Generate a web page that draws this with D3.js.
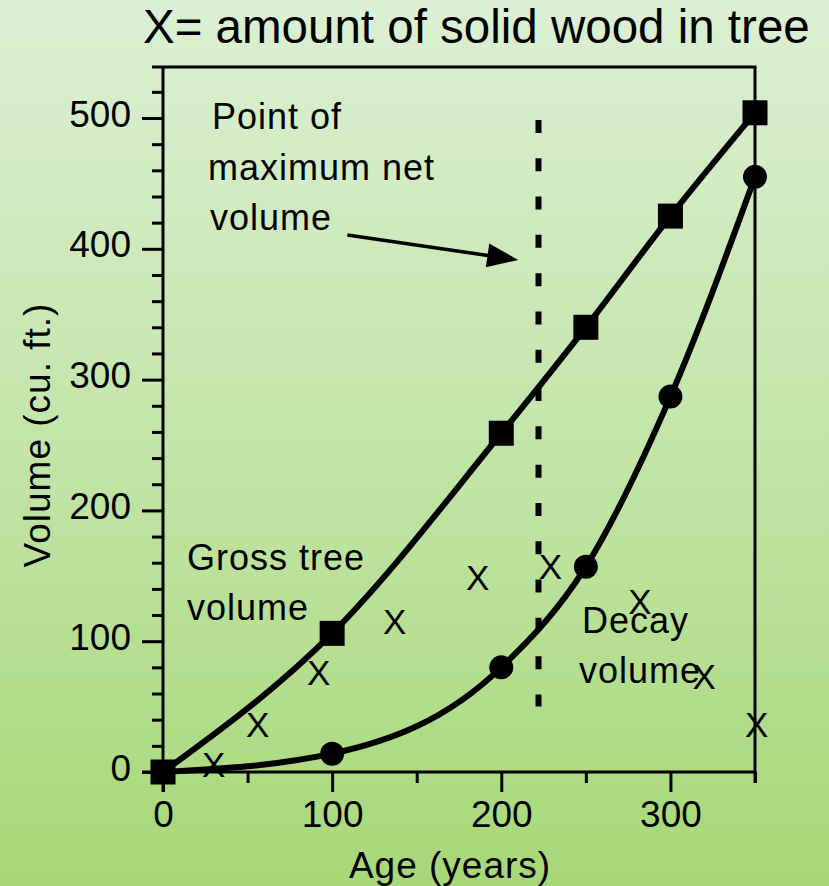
<!DOCTYPE html>
<html>
<head>
<meta charset="utf-8">
<script src="https://cdn.jsdelivr.net/npm/d3@7"></script>
<style>
  html, body { margin: 0; padding: 0; }
  svg { display: block; }
  text { font-family: "Liberation Sans", Arial, sans-serif; fill: #000; }
</style>
</head>
<body>
<script>
// ---- data ----
const ages = [0, 100, 200, 250, 300, 350];
const grossVolume = [0, 106, 259, 340, 425, 504];
const decayVolume = [0, 14, 80, 157, 287, 455];
const solidAge = [30, 56, 92, 137, 186, 229, 282, 320, 351];
const solidVolume = [6, 36, 76, 115, 149, 157, 130, 73, 36];
const xMajorTicks = [0, 100, 200, 300];
const xMinorTicks = [50, 150, 250, 350];
const yMajorTicks = [0, 100, 200, 300, 400, 500];
const yMinorTicks = [20, 40, 60, 80, 120, 140, 160, 180, 220, 240, 260, 280, 320, 340, 360, 380, 420, 440, 460, 480, 520];
const maxNetAge = 222;
const titleText = "X= amount of solid wood in tree";
const xLabel = "Age (years)";
const yLabel = "Volume (cu. ft.)";

const W = 829, H = 886;
const svg = d3.select("body").append("svg").attr("width", W).attr("height", H);

const defs = svg.append("defs");
const grad = defs.append("linearGradient").attr("id", "bg").attr("x1", 0).attr("y1", 0).attr("x2", 0).attr("y2", 1);
grad.append("stop").attr("offset", "0%").attr("stop-color", "#dcf0d4");
grad.append("stop").attr("offset", "50%").attr("stop-color", "#c3e5a9");
grad.append("stop").attr("offset", "100%").attr("stop-color", "#a7d877");
svg.append("rect").attr("width", W).attr("height", H).attr("fill", "url(#bg)");

const x = d3.scaleLinear().domain([0, 350]).range([163, 755]);
const y = d3.scaleLinear().domain([0, 539]).range([772, 67]);

// title
svg.append("text").attr("x", 143).attr("y", 43)
  .attr("font-size", 47.5).text(titleText);

// axes
const axisFont = 37;
const yAxisMaj = svg.append("g").attr("transform", `translate(${x(0)},0)`)
  .call(d3.axisLeft(y).tickValues(yMajorTicks).tickSize(21).tickSizeOuter(0).tickPadding(11).tickFormat(d3.format("d")));
const yAxisMin = svg.append("g").attr("transform", `translate(${x(0)},0)`)
  .call(d3.axisLeft(y).tickValues(yMinorTicks).tickSize(11).tickSizeOuter(0).tickFormat(""));
const xAxisMaj = svg.append("g").attr("transform", `translate(0,${y(0)})`)
  .call(d3.axisBottom(x).tickValues(xMajorTicks).tickSize(20).tickSizeOuter(0).tickPadding(9).tickFormat(d3.format("d")));
const xAxisMin = svg.append("g").attr("transform", `translate(0,${y(0)})`)
  .call(d3.axisBottom(x).tickValues(xMinorTicks).tickSize(11).tickSizeOuter(0).tickFormat(""));

[yAxisMaj, yAxisMin, xAxisMaj, xAxisMin].forEach(g => {
  g.select(".domain").remove();
  g.selectAll(".tick line").attr("stroke", "#000").attr("stroke-width", 3);
  g.selectAll("text").attr("font-size", axisFont)
    .attr("font-family", "'Liberation Sans', Arial, sans-serif").attr("fill", "#000");
});
yAxisMaj.selectAll("text").attr("dy", "0.22em");

// frame
const frame = svg.append("g").attr("stroke", "#000").attr("stroke-width", 3).attr("fill", "none");
frame.append("line").attr("x1", x(0) - 11).attr("x2", x(350) + 1.5).attr("y1", y(539)).attr("y2", y(539));
frame.append("line").attr("x1", x(350)).attr("x2", x(350)).attr("y1", y(539)).attr("y2", y(0) + 11);
frame.append("line").attr("x1", x(0)).attr("x2", x(0)).attr("y1", y(539)).attr("y2", y(0) + 20);
frame.append("line").attr("x1", x(0) - 21).attr("x2", x(350)).attr("y1", y(0)).attr("y2", y(0));

// axis labels
svg.append("text").attr("x", 450).attr("y", 878).attr("text-anchor", "middle")
  .attr("font-size", 37).attr("letter-spacing", 1).text(xLabel);
svg.append("text").attr("transform", "translate(50,435) rotate(-90)").attr("text-anchor", "middle")
  .attr("font-size", 37).attr("letter-spacing", 1).text(yLabel);

// dashed vertical line: point of maximum net volume
svg.append("line").attr("x1", x(maxNetAge)).attr("x2", x(maxNetAge))
  .attr("y1", y(498.5)).attr("y2", y(50))
  .attr("stroke", "#000").attr("stroke-width", 6).attr("stroke-dasharray", "13 25.3");

// curves
const line = d3.line().x(d => x(d[0])).y(d => y(d[1])).curve(d3.curveMonotoneX);
const grossData = ages.map((a, i) => [a, grossVolume[i]]);
const decayData = ages.map((a, i) => [a, decayVolume[i]]);
svg.append("path").attr("d", line(decayData)).attr("fill", "none").attr("stroke", "#000").attr("stroke-width", 6);
svg.append("path").attr("d", line(grossData)).attr("fill", "none").attr("stroke", "#000").attr("stroke-width", 6);

svg.append("g").selectAll("circle").data(decayData).join("circle")
  .attr("cx", d => x(d[0])).attr("cy", d => y(d[1])).attr("r", 12).attr("fill", "#000");
const sq = 25;
svg.append("g").selectAll("rect").data(grossData).join("rect")
  .attr("x", d => x(d[0]) - sq / 2).attr("y", d => y(d[1]) - sq / 2)
  .attr("width", sq).attr("height", sq).attr("fill", "#000");

// solid wood X markers
svg.append("g").selectAll("text").data(solidAge.map((a, i) => [a, solidVolume[i]])).join("text")
  .attr("x", d => x(d[0])).attr("y", d => y(d[1]) + 12.5)
  .attr("text-anchor", "middle").attr("font-size", 35).text("X");

// annotations
const ann = svg.append("g").attr("font-size", 36).attr("letter-spacing", 1);
ann.append("text").attr("x", 212).attr("y", 129).text("Point of");
ann.append("text").attr("x", 208).attr("y", 180).text("maximum net");
ann.append("text").attr("x", 210).attr("y", 230).text("volume");
ann.append("text").attr("x", 187).attr("y", 570).text("Gross tree");
ann.append("text").attr("x", 187).attr("y", 620).text("volume");
ann.append("text").attr("x", 582).attr("y", 633).text("Decay");
ann.append("text").attr("x", 579).attr("y", 683).text("volume");

// arrow
const a0 = [x(109), y(410.5)], a1 = [x(210), y(391.5)];
const ang = Math.atan2(a1[1] - a0[1], a1[0] - a0[0]);
const headLen = 31, headHalf = 12;
const base = [a1[0] - headLen * Math.cos(ang), a1[1] - headLen * Math.sin(ang)];
svg.append("line").attr("x1", a0[0]).attr("y1", a0[1]).attr("x2", base[0] + 4 * Math.cos(ang)).attr("y2", base[1] + 4 * Math.sin(ang))
  .attr("stroke", "#000").attr("stroke-width", 3.5);
svg.append("polygon").attr("fill", "#000").attr("points", [
  a1,
  [base[0] + headHalf * Math.sin(ang), base[1] - headHalf * Math.cos(ang)],
  [base[0] - headHalf * Math.sin(ang), base[1] + headHalf * Math.cos(ang)]
].map(p => p.join(",")).join(" "));
</script>
</body>
</html>
